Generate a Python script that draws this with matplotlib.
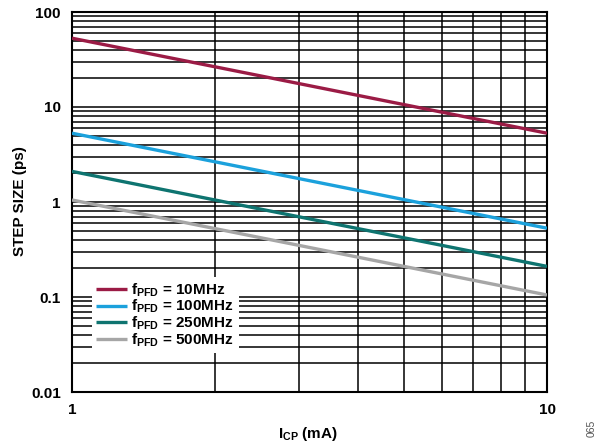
import numpy as np
import matplotlib
matplotlib.use("Agg")
import matplotlib.pyplot as plt
from matplotlib.ticker import LogLocator, NullFormatter, FixedLocator, FixedFormatter

# ---------- Data ----------
icp_ma = [1, 10]
step_10mhz = [53.0, 5.3]
step_100mhz = [5.3, 0.53]
step_250mhz = [2.1, 0.21]
step_500mhz = [1.05, 0.105]

labels = [r"f$_{\mathbf{PFD}}$ = 10MHz", r"f$_{\mathbf{PFD}}$ = 100MHz",
          r"f$_{\mathbf{PFD}}$ = 250MHz", r"f$_{\mathbf{PFD}}$ = 500MHz"]
colors = ["#9B1B45", "#1BA1DC", "#0E7470", "#A6A6A6"]

y_ticks = [0.01, 0.1, 1, 10, 100]
y_tick_labels = ["0.01", "0.1", "1", "10", "100"]

plt.rcParams.update({
    "font.family": ["Liberation Sans", "DejaVu Sans"],
    "font.weight": "bold",
    "mathtext.fontset": "custom",
    "mathtext.rm": "Liberation Sans:bold",
    "mathtext.it": "Liberation Sans:bold",
    "mathtext.bf": "Liberation Sans:bold",
})

W, H = 601, 444
fig = plt.figure(figsize=(W / 100, H / 100), dpi=100)
ax = fig.add_axes([72 / W, 52 / H, (547 - 72) / W, (392 - 12) / H])

for ys, lab, c in zip([step_10mhz, step_100mhz, step_250mhz, step_500mhz], labels, colors):
    ax.plot(icp_ma, ys, color=c, lw=2.4, label=lab, solid_capstyle="butt", zorder=3)

ax.set_xscale("log")
ax.set_yscale("log")
ax.set_xlim(1, 10)
ax.set_ylim(0.01, 100)

ax.xaxis.set_major_locator(FixedLocator([1, 10]))
ax.xaxis.set_major_formatter(FixedFormatter(["1", "10"]))
ax.xaxis.set_minor_locator(LogLocator(base=10, subs=np.arange(2, 10)))
ax.xaxis.set_minor_formatter(NullFormatter())
ax.yaxis.set_major_locator(FixedLocator(y_ticks))
ax.yaxis.set_major_formatter(FixedFormatter(y_tick_labels))
ax.yaxis.set_minor_locator(LogLocator(base=10, subs=np.arange(2, 10), numticks=20))
ax.yaxis.set_minor_formatter(NullFormatter())

ax.grid(True, which="both", color="black", lw=1.1)
ax.tick_params(which="both", length=0)
ax.tick_params(axis="x", pad=8, labelsize=11)
ax.tick_params(axis="y", pad=8, labelsize=11)
for s in ax.spines.values():
    s.set_linewidth(1.5)

# axis titles placed in figure pixels to match the reference
fig.text(308 / W, 1 - 438 / H, r"I$_{\mathbf{CP}}$ (mA)", fontsize=11,
         fontweight="bold", ha="center", va="baseline")
fig.text(20 / W, 1 - 201 / H, "STEP SIZE (ps)", fontsize=11,
         fontweight="bold", rotation=90, ha="center", va="center")

leg = ax.legend(loc="upper left", bbox_to_anchor=(84 / W, 1 - 269 / H),
                bbox_transform=fig.transFigure, fontsize=11, frameon=True,
                handlelength=2.0, handletextpad=0.3, labelspacing=-0.05,
                borderpad=0.3, fancybox=False)
leg.get_frame().set_facecolor("white")
leg.get_frame().set_edgecolor("none")
leg.get_frame().set_alpha(1)
leg.set_zorder(5)

fig.text(592 / W, 1 - 428 / H, "065", rotation=90, fontsize=7.5, color="#555555",
         fontweight="normal", ha="center", va="center")

fig.savefig("out.png", dpi=100)
